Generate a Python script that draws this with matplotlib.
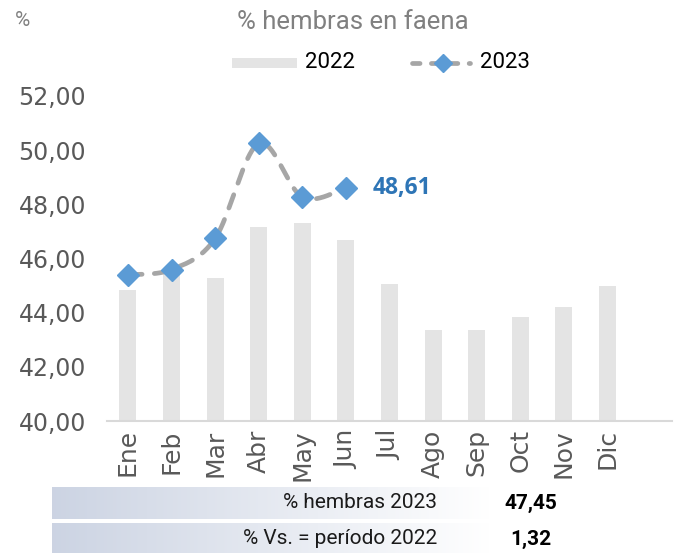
import numpy as np
import matplotlib
matplotlib.use("Agg")
import matplotlib.pyplot as plt
from matplotlib.patches import Rectangle

months = ["Ene", "Feb", "Mar", "Abr", "May", "Jun", "Jul", "Ago", "Sep", "Oct", "Nov", "Dic"]
vals_2022 = [44.85, 45.45, 45.28, 47.16, 47.30, 46.70, 45.07, 43.36, 43.36, 43.85, 44.20, 45.00]
vals_2023 = [45.40, 45.59, 46.74, 50.25, 48.27, 48.61]
yticks = [40, 42, 44, 46, 48, 50, 52]
series_names = ["2022", "2023"]
summary_labels = ["% hembras 2023", "% Vs. = período 2022"]
summary_values = ["47,45", "1,32"]
last_label = "48,61"

narrow = ["Roboto", "DejaVu Sans"]
BAR_C = "#e4e4e4"
LINE_C = "#a6a6a6"
MARK_C = "#5b9bd5"

W, H = 680, 553
fig = plt.figure(figsize=(W / 100, H / 100), dpi=100)

def fx(px):
    return px / W

def fy(py):
    return 1 - py / H

# background / overlay axes in pixel coordinates
bg = fig.add_axes([0, 0, 1, 1], zorder=-1)
bg.axis("off")

ax = fig.add_axes([fx(107), fy(421), fx(672) - fx(107), fy(96) - fy(421)])
x = np.arange(len(months))
ax.bar(x, vals_2022, width=0.39, color=BAR_C, zorder=1)

# smooth (Excel-like Catmull-Rom bezier) path through the 2023 points
x23 = np.arange(len(vals_2023), dtype=float)
y23 = np.array(vals_2023, dtype=float)
P = np.column_stack([x23, y23])
Pext = np.vstack([P[0], P, P[-1]])
curve = []
t = np.linspace(0, 1, 40)
for i in range(len(P) - 1):
    p0, p1, p2, p3 = Pext[i], Pext[i + 1], Pext[i + 2], Pext[i + 3]
    c1 = p1 + (p2 - p0) / 6
    c2 = p2 - (p3 - p1) / 6
    seg = ((1 - t) ** 3)[:, None] * p1 + (3 * (1 - t) ** 2 * t)[:, None] * c1 \
        + (3 * (1 - t) * t ** 2)[:, None] * c2 + (t ** 3)[:, None] * p2
    curve.append(seg if i == 0 else seg[1:])
curve = np.vstack(curve)
ax.plot(curve[:, 0], curve[:, 1], color=LINE_C, lw=3.4, dashes=(3.0, 2.6),
        dash_capstyle="round", zorder=2)
ax.plot(x23, y23, ls="none", marker="D", ms=11.5, color=MARK_C, mec=MARK_C, zorder=3)
ax.annotate(last_label, (x23[-1], y23[-1]), xytext=(19, 0), textcoords="offset points",
            va="center", ha="left", fontsize=16.5, fontweight="bold", color="#2e75b6",
            family=["Open Sans", "DejaVu Sans"])

ax.set_xlim(-0.48, 12.48)
ax.set_ylim(40, 52)
ax.set_yticks(yticks)
ax.set_yticklabels([f"{v:.2f}".replace(".", ",") for v in yticks], fontsize=17, color="#595959")
ax.set_xticks(x)
ax.set_xticklabels(months, rotation=90, fontsize=18, color="#595959")
ax.tick_params(axis="both", length=0)
ax.tick_params(axis="x", pad=6)
ax.tick_params(axis="y", pad=15)
for s in ["top", "right", "left"]:
    ax.spines[s].set_visible(False)
ax.spines["bottom"].set_color("#d9d9d9")
ax.spines["bottom"].set_linewidth(1.5)

# titles
fig.text(fx(22), fy(20), "%", fontsize=15, color="#808080", ha="center", va="center", family=narrow)
fig.text(fx(353), fy(22), "% hembras en faena", fontsize=18.5, color="#808080", ha="center",
         va="center", family=narrow)

# legend (drawn in pixel coordinates)
bg.add_patch(Rectangle((232, 58), 65, 10, facecolor=BAR_C, edgecolor="none"))
bg.plot([412, 470], [63, 63], color=LINE_C, lw=3.4, dashes=(1.6, 2.4), dash_capstyle="round")
bg.plot([443], [63], marker="D", ms=9, color=MARK_C, mec=MARK_C, ls="none")
bg.text(305, 63, series_names[0], fontsize=16, color="#000000", va="center", ha="left", family=narrow)
bg.text(480, 63, series_names[1], fontsize=16, color="#000000", va="center", ha="left", family=narrow)

# summary rows with gradient background
grad = np.linspace(0, 1, 256)
c0 = np.array([0.80, 0.83, 0.89])
c1 = np.array([1.0, 1.0, 1.0])
img = c0[None, :] * (1 - grad[:, None]) + c1[None, :] * grad[:, None]
img = img[None, :, :]
for (y0, y1) in [(487, 519), (523, 553)]:
    bg.imshow(img, extent=[52, 490, y1, y0], aspect="auto", interpolation="bilinear")

for i, (lab, val) in enumerate(zip(summary_labels, summary_values)):
    yc = [503, 539][i]
    bg.text(437, yc, lab, ha="right", va="center", fontsize=15, color="#1a1a1a", family=narrow)
    bg.text(531, yc, val, ha="center", va="center", fontsize=15, color="#000000",
            fontweight="bold", family=narrow)

bg.set_xlim(0, W)
bg.set_ylim(H, 0)

fig.savefig("out.png", dpi=100)
